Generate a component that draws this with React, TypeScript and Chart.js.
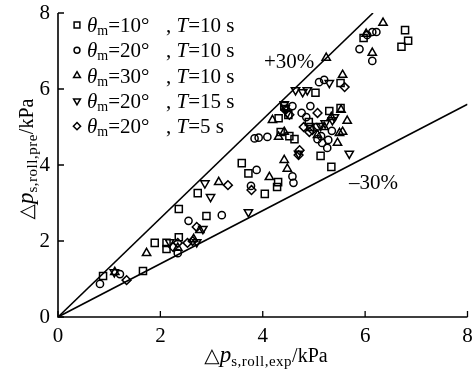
import React, { useEffect, useRef } from 'react';
import { Chart, registerables } from 'chart.js';

Chart.register(...registerables);

const FONT = '"Liberation Serif", "DejaVu Serif", serif';

const xTicks = [0, 2, 4, 6, 8];
const yTicks = [0, 2, 4, 6, 8];
const upperRatio = 1.3;
const lowerRatio = 0.7;
const axisMax = 8;

const thetaValues = [10, 20, 30, 20, 20];
const periodValues = [10, 10, 10, 15, 5];

const seriesA: [number, number][] = [
  [0.88, 1.08], [1.66, 1.21], [1.89, 1.95], [2.12, 1.95], [2.12, 1.79], [2.36, 2.1], [2.36, 2.84],
  [2.73, 3.26], [2.9, 2.66], [3.59, 4.05], [3.72, 3.78], [4.04, 3.24], [4.3, 3.55], [4.28, 3.42],
  [4.35, 4.87], [4.52, 4.76], [4.62, 4.68], [4.31, 5.23], [4.42, 5.55], [4.5, 5.32], [4.9, 5.13],
  [4.93, 5.0], [5.03, 5.9], [5.13, 4.24], [5.34, 3.95], [5.52, 5.5], [5.3, 5.42], [5.52, 6.16],
  [5.97, 7.34], [6.78, 7.55], [6.84, 7.27], [6.71, 7.11],
];
const seriesB: [number, number][] = [
  [0.82, 0.87], [1.21, 1.13], [2.34, 1.68], [2.55, 2.53], [3.2, 2.68], [3.77, 3.45], [3.84, 4.7],
  [3.92, 4.72], [4.09, 4.74], [3.88, 3.87], [4.58, 3.7], [4.6, 3.53], [4.58, 5.55], [4.76, 5.37],
  [4.85, 5.26], [4.93, 5.55], [5.07, 4.68], [5.16, 4.58], [5.26, 4.45], [5.14, 4.76], [5.28, 4.66],
  [5.1, 6.18], [5.2, 6.24], [5.89, 7.05], [6.04, 7.42], [6.14, 7.5], [6.22, 7.5], [6.14, 6.74],
  [5.05, 5.0], [5.35, 4.9],
];
const seriesC: [number, number][] = [
  [1.11, 1.18], [1.73, 1.68], [2.34, 1.82], [2.65, 2.05], [2.77, 2.29], [3.14, 3.55], [4.13, 3.68],
  [4.42, 4.13], [4.48, 3.9], [4.19, 5.18], [4.31, 4.74], [5.56, 6.37], [5.53, 5.45], [5.65, 5.16],
  [5.34, 5.26], [5.5, 4.84], [5.46, 4.58], [5.2, 5.0], [5.07, 4.79], [6.35, 7.74], [6.02, 7.45],
  [6.14, 6.95], [5.24, 6.82], [5.56, 4.87], [4.42, 4.87],
];
const seriesD: [number, number][] = [
  [1.1, 1.18], [2.18, 1.97], [2.71, 1.97], [2.83, 2.32], [2.87, 3.52], [2.98, 3.16], [3.72, 2.76],
  [4.42, 5.6], [4.48, 5.37], [4.64, 5.97], [4.78, 5.92], [4.87, 5.97], [5.3, 6.16], [5.4, 5.26],
  [5.13, 5.03], [5.22, 5.1], [5.69, 4.3], [4.7, 4.3], [5.36, 5.18], [4.44, 5.5],
];
const seriesE: [number, number][] = [
  [1.34, 0.97], [2.25, 1.84], [2.34, 1.95], [2.53, 1.95], [2.63, 2.0], [2.71, 2.37], [3.32, 3.47],
  [3.78, 3.34], [4.72, 4.39], [4.7, 4.26], [5.6, 6.05], [4.52, 5.32], [5.07, 5.37], [4.8, 5.0],
  [4.91, 4.87], [4.97, 4.92], [4.44, 5.45],
];

const allSeries = [seriesA, seriesB, seriesC, seriesD, seriesE];
const pointStyles = ['rect', 'circle', 'triangle', 'triangle', 'rectRot'];
const pointRotations = [0, 0, 0, 180, 0];
const pointRadii = [5, 3.6, 4.8, 4.8, 4.4];

type Run = { t: string; f: string; dy?: number; ls?: string };

function drawRuns(ctx: CanvasRenderingContext2D, runs: Run[], x: number, y: number) {
  let cx = x;
  for (const r of runs) {
    ctx.font = r.f;
    (ctx as any).letterSpacing = r.ls || '0px';
    ctx.fillText(r.t, cx, y + (r.dy || 0));
    cx += ctx.measureText(r.t).width;
  }
  (ctx as any).letterSpacing = '0px';
  return cx - x;
}
function runsWidth(ctx: CanvasRenderingContext2D, runs: Run[]) {
  let w = 0;
  for (const r of runs) {
    ctx.font = r.f;
    (ctx as any).letterSpacing = r.ls || '0px';
    w += ctx.measureText(r.t).width;
  }
  (ctx as any).letterSpacing = '0px';
  return w;
}

function drawMarker(ctx: CanvasRenderingContext2D, style: string, rot: number, r: number, x: number, y: number) {
  ctx.beginPath();
  if (style === 'rect') {
    const s = Math.SQRT1_2 * r;
    ctx.rect(x - s, y - s, 2 * s, 2 * s);
  } else if (style === 'circle') {
    ctx.arc(x, y, r, 0, Math.PI * 2);
  } else if (style === 'triangle') {
    let a = (rot * Math.PI) / 180;
    for (let i = 0; i < 3; i++) {
      const px = x + Math.sin(a) * r;
      const py = y - Math.cos(a) * r;
      if (i === 0) ctx.moveTo(px, py);
      else ctx.lineTo(px, py);
      a += (2 * Math.PI) / 3;
    }
    ctx.closePath();
  } else {
    ctx.moveTo(x, y - r);
    ctx.lineTo(x + r, y);
    ctx.lineTo(x, y + r);
    ctx.lineTo(x - r, y);
    ctx.closePath();
  }
  ctx.stroke();
}

const decorPlugin = {
  id: 'decor',
  afterDraw(chart: any) {
    const ctx: CanvasRenderingContext2D = chart.ctx;
    const xs = chart.scales.x;
    const ys = chart.scales.y;
    const { left, right, top, bottom } = chart.chartArea;
    ctx.save();
    ctx.strokeStyle = '#000';
    ctx.fillStyle = '#000';
    ctx.lineWidth = 1.6;
    ctx.beginPath();
    ctx.moveTo(left, top);
    ctx.lineTo(left, bottom);
    ctx.lineTo(right, bottom);
    ctx.stroke();
    ctx.lineWidth = 1.3;
    ctx.beginPath();
    for (const v of xTicks) {
      const px = xs.getPixelForValue(v);
      ctx.moveTo(px, bottom);
      ctx.lineTo(px, bottom - 6);
    }
    for (const v of yTicks) {
      const py = ys.getPixelForValue(v);
      ctx.moveTo(left, py);
      ctx.lineTo(left + 6, py);
    }
    ctx.stroke();

    ctx.textBaseline = 'alphabetic';
    ctx.textAlign = 'left';
    ctx.font = `21px ${FONT}`;
    ctx.fillText('+30%', 264, 68);
    ctx.fillText('\u201330%', 349, 189);

    const big = `21px ${FONT}`;
    const bigI = `italic 21px ${FONT}`;
    const sub = `14px ${FONT}`;
    ctx.lineWidth = 1.5;
    for (let i = 0; i < thetaValues.length; i++) {
      const cy = 25 + i * 25.3;
      drawMarker(ctx, pointStyles[i], pointRotations[i], pointRadii[i] * 0.82, 77, cy);
      const base = cy + 7;
      drawRuns(ctx, [
        { t: '\u03b8', f: bigI },
        { t: 'm', f: sub, dy: 3 },
        { t: `=${thetaValues[i]}\u00b0`, f: big },
      ], 87, base);
      drawRuns(ctx, [
        { t: ', ', f: big },
        { t: 'T', f: bigI },
        { t: `=${periodValues[i]} s`, f: big },
      ], 166, base);
    }

    const xRuns: Run[] = [
      { t: '\u25b3', f: `20px ${FONT}` },
      { t: 'p', f: `italic 23px ${FONT}` },
      { t: 's,roll,exp', f: `15px ${FONT}`, dy: 4, ls: '0.5px' },
      { t: '/kPa', f: `20px ${FONT}` },
    ];
    const xw = runsWidth(ctx, xRuns);
    drawRuns(ctx, xRuns, 266 - xw / 2, 362);

    const yRuns: Run[] = [
      { t: '\u25b3', f: `20px ${FONT}` },
      { t: 'p', f: `italic 23px ${FONT}` },
      { t: 's,roll,pre', f: `15px ${FONT}`, dy: 4, ls: '0.5px' },
      { t: '/kPa', f: `20px ${FONT}` },
    ];
    const yw = runsWidth(ctx, yRuns);
    ctx.translate(33, 159 + yw / 2);
    ctx.rotate(-Math.PI / 2);
    drawRuns(ctx, yRuns, 0, 0);
    ctx.restore();
  },
};

export default function App() {
  const ref = useRef<HTMLCanvasElement>(null);
  useEffect(() => {
    document.body.style.margin = '0';
    const canvas = ref.current!;
    const scatterSets = allSeries.map((s, i) => ({
      type: 'scatter' as const,
      label: `s${i}`,
      data: s.map(([x, y]) => ({ x, y })),
      pointStyle: pointStyles[i] as any,
      rotation: pointRotations[i],
      pointRadius: pointRadii[i],
      pointBorderWidth: 1.5,
      pointBorderColor: '#000',
      pointBackgroundColor: 'rgba(0,0,0,0)',
      showLine: false,
    }));
    const lineSets = [
      {
        type: 'line' as const,
        label: 'upper',
        data: [{ x: 0, y: 0 }, { x: axisMax / upperRatio, y: axisMax }],
        borderColor: '#000',
        borderWidth: 1.6,
        pointRadius: 0,
        fill: false,
      },
      {
        type: 'line' as const,
        label: 'lower',
        data: [{ x: 0, y: 0 }, { x: axisMax, y: axisMax * lowerRatio }],
        borderColor: '#000',
        borderWidth: 1.6,
        pointRadius: 0,
        fill: false,
      },
    ];
    const zeroPad = (s: any) => {
      s.paddingTop = 0;
      s.paddingBottom = 0;
      s.paddingLeft = 0;
      s.paddingRight = 0;
    };
    const chart = new Chart(canvas, {
      type: 'scatter',
      data: { datasets: [...lineSets, ...scatterSets] as any },
      options: {
        animation: false,
        responsive: false,
        devicePixelRatio: 1,
        layout: { padding: { left: 0, top: 13, right: 6, bottom: 0 } },
        plugins: { legend: { display: false }, tooltip: { enabled: false } },
        scales: {
          x: {
            type: 'linear',
            min: 0,
            max: axisMax,
            grid: { display: false, drawTicks: false },
            border: { display: false },
            afterFit: (s: any) => { s.height = 55; zeroPad(s); },
            afterBuildTicks: (s: any) => { s.ticks = xTicks.map((v) => ({ value: v })); },
            ticks: { font: { family: FONT, size: 21 }, color: '#000', padding: 7 },
          },
          y: {
            type: 'linear',
            min: 0,
            max: axisMax,
            grid: { display: false, drawTicks: false },
            border: { display: false },
            afterFit: (s: any) => { s.width = 58; zeroPad(s); },
            afterBuildTicks: (s: any) => { s.ticks = yTicks.map((v) => ({ value: v })); },
            ticks: { font: { family: FONT, size: 21 }, color: '#000', padding: 8 },
          },
        },
      },
      plugins: [decorPlugin],
    });
    return () => chart.destroy();
  }, []);
  return (
    <div style={{ position: 'absolute', left: 0, top: 0, width: 474, height: 372 }}>
      <canvas ref={ref} width={474} height={372} />
    </div>
  );
}
